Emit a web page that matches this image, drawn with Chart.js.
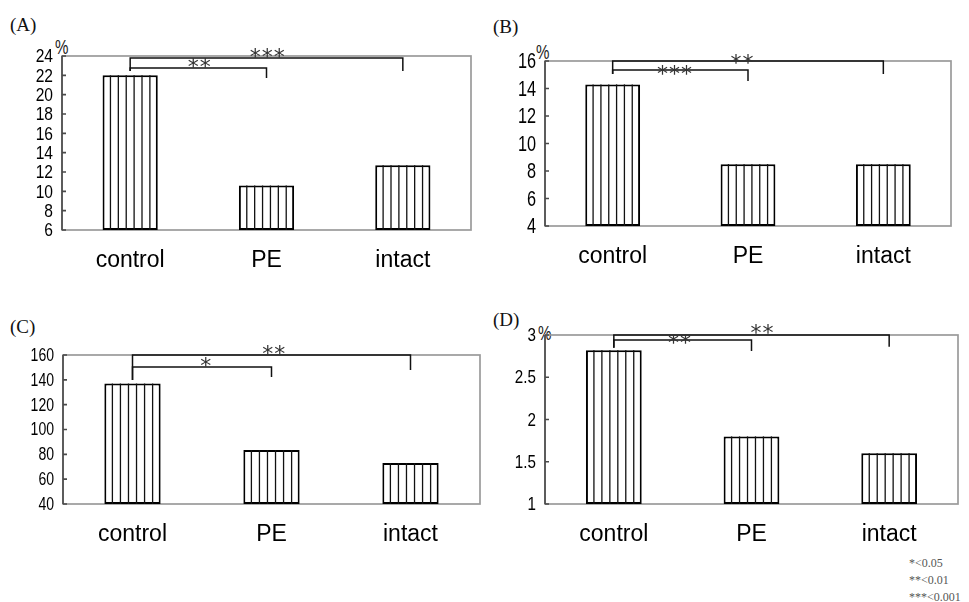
<!DOCTYPE html>
<html>
<head>
<meta charset="utf-8">
<script src="https://cdn.jsdelivr.net/npm/chart.js@4.4.1/dist/chart.umd.min.js"></script>
<style>
    body { margin: 0; width: 969px; height: 602px; background: #fff; position: relative; overflow: hidden; }
    canvas { position: absolute; }
    .tag { position: absolute; font-family: 'Liberation Serif', 'Times New Roman', serif; font-size: 19px; color: #111; line-height: 1; }
    .unit { position: absolute; font-family: 'Liberation Sans', Arial, sans-serif; font-size: 21px; color: #222; line-height: 1; transform: scaleX(0.72); transform-origin: left top; }
    .note { position: absolute; left: 909px; font-family: 'Liberation Serif', 'Times New Roman', serif; font-size: 12px; color: #555; line-height: 1; }
</style>
</head>
<body>
<div class="tag" style="left:10px;top:15px">(A)</div>
<div class="tag" style="left:493px;top:17px">(B)</div>
<div class="tag" style="left:10px;top:317px">(C)</div>
<div class="tag" style="left:493px;top:310px">(D)</div>
<div class="unit" style="left:55px;top:36px">%</div>
<div class="unit" style="left:536px;top:41px">%</div>
<div class="unit" style="left:538px;top:322px">%</div>
<div class="note" style="top:557px">*&lt;0.05</div>
<div class="note" style="top:574px">**&lt;0.01</div>
<div class="note" style="top:591px">***&lt;0.001</div>

<canvas id="chartA"></canvas>
<canvas id="chartB"></canvas>
<canvas id="chartC"></canvas>
<canvas id="chartD"></canvas>

<script>
// --- data ---
const categories = ['control', 'PE', 'intact'];

const valuesA = [22, 10.6, 12.7];
const valuesB = [14.3, 8.5, 8.5];
const valuesC = [137, 83.5, 73];
const valuesD = [2.82, 1.8, 1.6];

const ticksA = [6, 8, 10, 12, 14, 16, 18, 20, 22, 24];
const ticksB = [4, 6, 8, 10, 12, 14, 16];
const ticksC = [40, 60, 80, 100, 120, 140, 160];
const ticksD = [1, 1.5, 2, 2.5, 3];

// significance brackets: category from/to, line level, drop ends, star text and where it sits
const bracketsA = [
    { from: 0, to: 2, y: 23.79, end0: 22.45, end1: 22.45, text: '***', tx: 1.01, ty: 24.41 },
    { from: 0, to: 1, y: 22.76, end0: 22.45, end1: 21.72, text: '**', tx: 0.51, ty: 23.38 }
];
const bracketsB = [
    { from: 0, to: 2, y: 16, end0: 15.05, end1: 15.05, text: '**', tx: 0.96, ty: 16.22 },
    { from: 0, to: 1, y: 15.35, end0: 15.05, end1: 14.55, text: '***', tx: 0.46, ty: 15.42 }
];
const bracketsC = [
    { from: 0, to: 2, y: 160, end0: 139.9, end1: 147.9, text: '**', tx: 1.02, ty: 164.8 },
    { from: 0, to: 1, y: 150.3, end0: 139.9, end1: 142.3, text: '*', tx: 0.53, ty: 155.2 }
];
const bracketsD = [
    { from: 0, to: 2, y: 3, end0: 2.85, end1: 2.86, text: '**', tx: 1.08, ty: 3.08 },
    { from: 0, to: 1, y: 2.94, end0: 2.85, end1: 2.81, text: '**', tx: 0.48, ty: 2.96 }
];

// plot-area boxes on the page, plus the look of each panel's tick numbers
const PAD_L = 58, PAD_T = 50, PAD_R = 6, PAD_B = 50;
const panels = [
    { id: 'chartA', values: valuesA, ticks: ticksA, brackets: bracketsA, box: { x: 62, y: 56, w: 409, h: 174 }, tickFont: 19, tickSqueeze: 0.82 },
    { id: 'chartB', values: valuesB, ticks: ticksB, brackets: bracketsB, box: { x: 545, y: 61, w: 406, h: 165 }, tickFont: 22, tickSqueeze: 0.74 },
    { id: 'chartC', values: valuesC, ticks: ticksC, brackets: bracketsC, box: { x: 63, y: 355, w: 417, h: 149 }, tickFont: 18, tickSqueeze: 0.78 },
    { id: 'chartD', values: valuesD, ticks: ticksD, brackets: bracketsD, box: { x: 545, y: 335, w: 413, h: 169 }, tickFont: 19, tickSqueeze: 0.8 }
];

const framePlugin = {
    id: 'frame',
    beforeDatasetsDraw(chart) {
        const { ctx, chartArea: a, scales: { y } } = chart;
        ctx.save();
        ctx.strokeStyle = '#9a9a9a';
        ctx.lineWidth = 1.7;
        ctx.strokeRect(a.left, a.top, a.right - a.left, a.bottom - a.top);
        // darker value axis with short inward ticks
        ctx.strokeStyle = '#4a4a4a';
        ctx.lineWidth = 1.6;
        ctx.beginPath();
        ctx.moveTo(a.left, a.top);
        ctx.lineTo(a.left, a.bottom);
        y.ticks.forEach(t => {
            const py = y.getPixelForValue(t.value);
            ctx.moveTo(a.left, py);
            ctx.lineTo(a.left + 4, py);
        });
        ctx.stroke();
        ctx.restore();
    }
};

const stripePlugin = {
    id: 'stripes',
    afterDatasetsDraw(chart) {
        const ctx = chart.ctx;
        const meta = chart.getDatasetMeta(0);
        ctx.save();
        ctx.strokeStyle = '#111';
        ctx.lineWidth = 1.3;
        meta.data.forEach(bar => {
            const left = bar.x - bar.width / 2;
            const step = bar.width / 7;
            for (let i = 1; i < 7; i++) {
                const x = left + step * i;
                ctx.beginPath();
                ctx.moveTo(x, bar.y);
                ctx.lineTo(x, bar.base);
                ctx.stroke();
            }
        });
        ctx.restore();
    }
};

// narrow tick numbers, like the condensed face of the original
const yLabelPlugin = {
    id: 'yLabels',
    afterDraw(chart, args, opts) {
        const { ctx, chartArea: a, scales: { y } } = chart;
        ctx.save();
        ctx.fillStyle = '#000';
        ctx.font = opts.size + 'px "Liberation Sans", Arial, sans-serif';
        ctx.textAlign = 'right';
        ctx.textBaseline = 'middle';
        y.ticks.forEach(t => {
            const py = y.getPixelForValue(t.value);
            ctx.save();
            ctx.translate(a.left - 9, py);
            ctx.scale(opts.squeeze, 1);
            ctx.fillText(String(t.value), 0, 1);
            ctx.restore();
        });
        ctx.restore();
    }
};

const bracketPlugin = {
    id: 'brackets',
    afterDraw(chart, args, opts) {
        const { ctx, scales: { x, y } } = chart;
        ctx.save();
        (opts.items || []).forEach(b => {
            const x0 = x.getPixelForValue(b.from);
            const x1 = x.getPixelForValue(b.to);
            ctx.strokeStyle = '#111';
            ctx.lineWidth = 1.5;
            ctx.beginPath();
            ctx.moveTo(x0, y.getPixelForValue(b.end0));
            ctx.lineTo(x0, y.getPixelForValue(b.y));
            ctx.lineTo(x1, y.getPixelForValue(b.y));
            ctx.lineTo(x1, y.getPixelForValue(b.end1));
            ctx.stroke();

            ctx.fillStyle = '#333';
            ctx.font = '22px "DejaVu Sans", sans-serif';
            ctx.letterSpacing = '1px';
            ctx.textAlign = 'center';
            ctx.textBaseline = 'alphabetic';
            ctx.fillText(b.text, x.getPixelForValue(b.tx), y.getPixelForValue(b.ty) + 12);
        });
        ctx.restore();
    }
};

panels.forEach(p => {
    const canvas = document.getElementById(p.id);
    canvas.width = p.box.w + PAD_L + PAD_R;
    canvas.height = p.box.h + PAD_T + PAD_B;
    canvas.style.left = (p.box.x - PAD_L) + 'px';
    canvas.style.top = (p.box.y - PAD_T) + 'px';

    const tickList = p.ticks;
    new Chart(canvas.getContext('2d'), {
        type: 'bar',
        data: {
            labels: categories,
            datasets: [{
                data: p.values,
                base: tickList[0],
                backgroundColor: '#fff',
                borderColor: '#000',
                borderWidth: 2,
                borderSkipped: false,
                barPercentage: 0.405,
                categoryPercentage: 1
            }]
        },
        options: {
            responsive: false,
            animation: false,
            devicePixelRatio: 1,
            layout: { padding: { top: PAD_T, right: PAD_R, left: 0, bottom: 0 } },
            plugins: {
                legend: { display: false },
                tooltip: { enabled: false },
                brackets: { items: p.brackets },
                yLabels: { size: p.tickFont, squeeze: p.tickSqueeze }
            },
            scales: {
                x: {
                    grid: { display: false, drawTicks: false },
                    border: { display: false },
                    ticks: {
                        color: '#000',
                        font: { family: "'Liberation Sans', Arial, sans-serif", size: 23 },
                        padding: 17
                    },
                    afterFit(s) { s.height = PAD_B; }
                },
                y: {
                    min: tickList[0],
                    max: tickList[tickList.length - 1],
                    grid: { display: false, drawTicks: false },
                    border: { display: false },
                    ticks: { display: false },
                    afterBuildTicks(s) { s.ticks = tickList.map(v => ({ value: v })); },
                    afterFit(s) { s.width = PAD_L; }
                }
            }
        },
        plugins: [framePlugin, stripePlugin, yLabelPlugin, bracketPlugin]
    });
});
</script>
</body>
</html>
